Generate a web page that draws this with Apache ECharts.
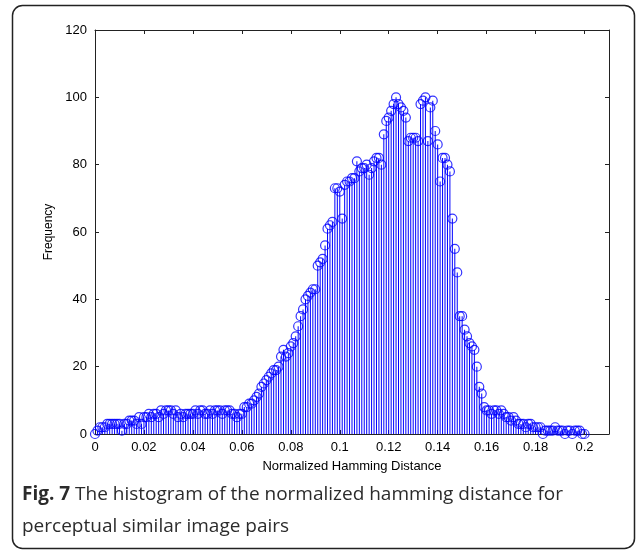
<!DOCTYPE html>
<html>
<head>
<meta charset="utf-8">
<script src="https://cdn.jsdelivr.net/npm/echarts@6/dist/echarts.min.js"></script>
<style>
  html, body { margin: 0; padding: 0; background: #fff; }
  #chart { width: 637px; height: 552px; }
</style>
</head>
<body>
<div id="chart"></div>
<script>
// bin centres: 0, 0.001, ... 0.2
var binStep = 0.001;
var frequency = [
  0, 1, 2, 2, 2, 3, 3, 3, 3, 3,
  3, 1, 3, 3, 4, 4, 4, 3, 5, 3,
  5, 5, 6, 5, 6, 6, 5, 7, 6, 7,
  7, 7, 6, 7, 5, 6, 5, 6, 6, 6,
  6, 7, 6, 7, 7, 6, 6, 7, 6, 7,
  7, 7, 6, 7, 7, 7, 6, 6, 5, 6,
  6, 8, 8, 9, 9, 10, 11, 12, 14, 15,
  16, 17, 18, 19, 19, 20, 23, 25, 23, 24,
  26, 27, 29, 32, 35, 37, 40, 41, 42, 43,
  43, 50, 51, 52, 56, 61, 62, 63, 73, 73,
  72, 64, 74, 75, 75, 76, 76, 81, 78, 79,
  79, 80, 77, 79, 81, 82, 82, 80, 89, 93,
  94, 96, 98, 100, 98, 97, 96, 94, 87, 88,
  88, 88, 87, 98, 99, 100, 87, 97, 99, 90,
  86, 75, 82, 82, 80, 78, 64, 55, 48, 35,
  35, 31, 29, 27, 26, 25, 20, 14, 12, 8,
  7, 7, 6, 7, 7, 6, 7, 6, 5, 5,
  4, 5, 4, 3, 3, 3, 2, 3, 3, 2,
  2, 2, 2, 0, 1, 1, 1, 1, 2, 1,
  1, 1, 0, 1, 1, 0, 1, 1, 1, 0,
  0
];
var xTicks = [0, 0.02, 0.04, 0.06, 0.08, 0.1, 0.12, 0.14, 0.16, 0.18, 0.2];
var yTicks = [0, 20, 40, 60, 80, 100, 120];

var points = frequency.map(function (f, i) {
  return [+(i * binStep).toFixed(3), f];
});

var axisFont = { fontFamily: 'Liberation Sans, Arial, sans-serif', fontSize: 13, color: '#000' };
var lineStyle = { color: '#222', width: 1 };

function boxAxis(extra) {
  var a = {
    type: 'value',
    axisLine: { show: true, onZero: false, lineStyle: lineStyle },
    axisTick: { show: true, inside: true, length: 4, lineStyle: lineStyle },
    axisLabel: { show: false },
    splitLine: { show: false }
  };
  for (var k in extra) a[k] = extra[k];
  return a;
}

var option = {
  animation: false,
  backgroundColor: '#fff',
  grid: { left: 95, top: 30, right: 28, bottom: 118 },
  xAxis: [
    boxAxis({
      min: 0, max: 0.21, interval: 0.02, position: 'bottom',
      name: 'Normalized Hamming Distance', nameLocation: 'middle', nameGap: 26,
      nameTextStyle: axisFont,
      axisLabel: {
        margin: 7,
        fontFamily: axisFont.fontFamily, fontSize: 13, color: '#000',
        formatter: function (v) {
          var r = +v.toFixed(2);
          return xTicks.indexOf(r) >= 0 ? String(r) : '';
        }
      }
    }),
    boxAxis({ min: 0, max: 0.21, interval: 0.02, position: 'top' })
  ],
  yAxis: [
    boxAxis({
      min: yTicks[0], max: yTicks[yTicks.length - 1], interval: 20, position: 'left',
      name: 'Frequency', nameLocation: 'middle', nameGap: 40, nameRotate: 90,
      nameTextStyle: { fontFamily: axisFont.fontFamily, fontSize: 12, color: '#000' },
      axisLabel: { margin: 8, fontFamily: axisFont.fontFamily, fontSize: 13, color: '#000' }
    }),
    boxAxis({ min: 0, max: 120, interval: 20, position: 'right' })
  ],
  series: [
    {
      type: 'bar',
      data: points,
      barWidth: 1,
      itemStyle: { color: '#0000ff' },
      silent: true
    },
    {
      type: 'scatter',
      data: points,
      symbol: 'circle',
      symbolSize: 9,
      itemStyle: { color: 'rgba(0,0,0,0)', borderColor: '#0000ff', borderWidth: 1.2 },
      silent: true
    }
  ],
  graphic: [
    {
      type: 'rect',
      shape: { x: 12.5, y: 5.5, width: 622, height: 543, r: 10 },
      style: { fill: 'none', stroke: '#222', lineWidth: 1.5 },
      silent: true
    },
    {
      type: 'text',
      left: 22, top: 479,
      style: {
        text: '{b|Fig. 7} The histogram of the normalized hamming distance for\nperceptual similar image pairs',
        fontFamily: 'Open Sans, sans-serif',
        fontSize: 19,
        lineHeight: 32,
        fill: '#2b2b2b',
        rich: {
          b: { fontFamily: 'Open Sans, sans-serif', fontSize: 19, fontWeight: 'bold', fill: '#2b2b2b' }
        }
      }
    }
  ]
};

var chart = echarts.init(document.getElementById('chart'), null, { renderer: 'canvas' });
chart.setOption(option);
</script>
</body>
</html>
